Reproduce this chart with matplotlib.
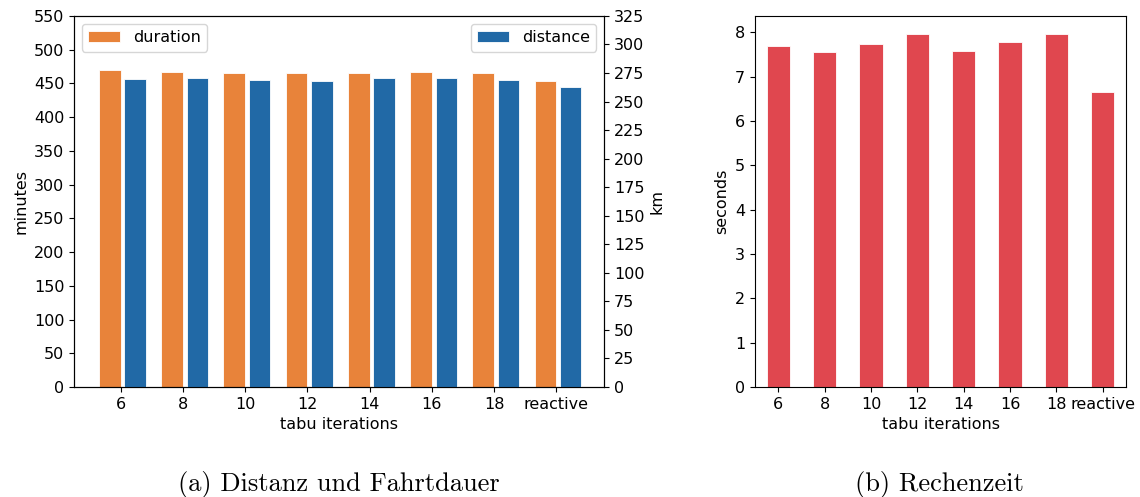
import numpy as np
import matplotlib
matplotlib.use("Agg")
import matplotlib.pyplot as plt

# Daten
labels = ["6", "8", "10", "12", "14", "16", "18", "reactive"]
duration_min = [470, 467, 465, 465, 465, 467, 465, 454]
distance_km = [269.7, 270.8, 268.8, 267.6, 270.8, 270.8, 268.8, 263.0]
runtime_s = [7.69, 7.56, 7.74, 7.95, 7.58, 7.77, 7.97, 6.66]

c_orange = "#e8833a"
c_blue = "#2169a6"
c_red = "#e0474f"

plt.rcParams["font.size"] = 11.5

fig = plt.figure(figsize=(11.4, 4.97), dpi=100)

# --- (a) Distanz und Fahrtdauer ---
ax1 = fig.add_axes([0.065, 0.2213, 0.465, 0.7467])
x = np.arange(len(labels))
ax1.bar(x - 0.35, duration_min, width=0.35, align="edge", color=c_orange,
        edgecolor="white", linewidth=0.6, label="duration")
ax1.set_ylim(0, 550)
ax1.set_yticks(np.arange(0, 551, 50))
ax1.set_ylabel("minutes")
ax1.set_xlabel("tabu iterations")
ax1.set_xticks(x)
ax1.set_xticklabels(labels)
ax1.set_xlim(-0.75, 7.77)
ax1.legend(loc="upper left")

ax2 = ax1.twinx()
ax2.bar(x + 0.06, distance_km, width=0.345, align="edge", color=c_blue,
        edgecolor="white", linewidth=0.6, label="distance")
ax2.set_ylim(0, 325)
ax2.set_yticks(np.arange(0, 326, 25))
ax2.set_ylabel("km")
ax2.legend(loc="upper right")

# --- (b) Rechenzeit ---
ax3 = fig.add_axes([0.6623, 0.2213, 0.3254, 0.7467])
ax3.bar(x, runtime_s, width=0.5, color=c_red, edgecolor="white", linewidth=0.6)
ax3.set_xlim(-0.5, 7.5)
ax3.set_xticks(x)
ax3.set_xticklabels(labels)
ax3.set_ylabel("seconds")
ax3.set_xlabel("tabu iterations")

# Bildunterschriften
fig.text(0.297, 0.026, "(a) Distanz und Fahrtdauer", ha="center", va="center",
         fontfamily="cmr10", fontsize=19)
fig.text(0.8245, 0.026, "(b) Rechenzeit", ha="center", va="center",
         fontfamily="cmr10", fontsize=19)

fig.savefig("out.png", dpi=100)
